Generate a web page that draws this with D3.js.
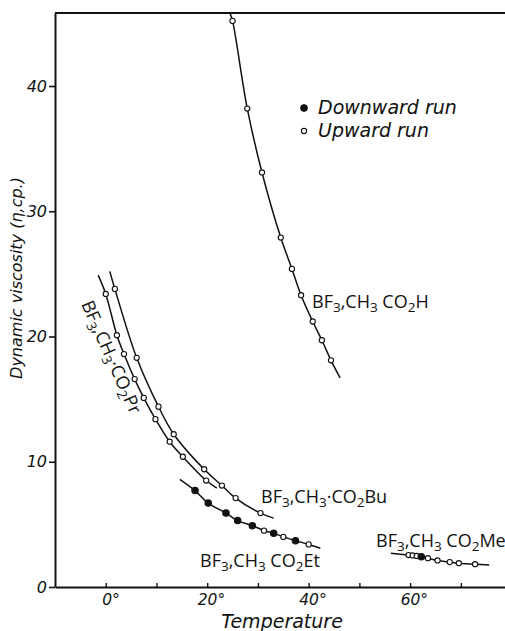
<!DOCTYPE html>
<html>
<head>
<meta charset="utf-8">
<script src="https://cdn.jsdelivr.net/npm/d3@7"></script>
<style>
  body { margin: 0; background: #fff; }
  svg { display: block; }
</style>
</head>
<body>
<div id="chart"></div>
<script>
// axis ticks
const tempTicks = [0, 10, 20, 30, 40, 50, 60, 70]
const tempLabelled = [0, 20, 40, 60]
const viscTicks = [0, 10, 20, 30, 40]

// BF3,CH3CO2H
const acidT = [25.0, 27.9, 30.8, 34.5, 36.7, 38.5, 40.8, 42.6, 44.4]
const acidV = [45.2, 38.2, 33.1, 27.9, 25.4, 23.3, 21.2, 19.7, 18.1]
const acidRun = ['u', 'u', 'u', 'u', 'u', 'u', 'u', 'u', 'u']
const acidEnds = [[24.5, 45.8], [46.2, 16.7]]

// BF3,CH3CO2Pr
const prT = [0, 2.2, 3.6, 5.7, 7.5, 9.8, 12.6, 15.2, 19.8]
const prV = [23.4, 20.1, 18.6, 16.6, 15.1, 13.4, 11.6, 10.4, 8.5]
const prRun = ['u', 'u', 'u', 'u', 'u', 'u', 'u', 'u', 'u']
const prEnds = [[-1.5, 24.9], [21.9, 7.9]]

// BF3,CH3CO2Bu
const buT = [1.8, 6.1, 10.4, 13.4, 19.4, 22.9, 25.6, 30.5]
const buV = [23.8, 18.3, 14.4, 12.2, 9.4, 8.1, 7.1, 5.9]
const buRun = ['u', 'u', 'u', 'u', 'u', 'u', 'u', 'u']
const buEnds = [[0.8, 25.2], [33.1, 5.5]]

// BF3,CH3CO2Et
const etT = [17.6, 20.2, 23.7, 26.0, 28.9, 31.2, 33.1, 35.0, 37.4, 40.0]
const etV = [7.7, 6.7, 5.9, 5.3, 4.9, 4.5, 4.3, 4.0, 3.7, 3.4]
const etRun = ['d', 'd', 'd', 'd', 'd', 'u', 'd', 'u', 'd', 'u']
const etEnds = [[14.6, 8.6], [42.3, 3.1]]

// BF3,CH3CO2Me
const meT = [59.7, 60.5, 61.3, 62.2, 63.5, 65.4, 67.8, 69.6, 72.8]
const meV = [2.55, 2.52, 2.48, 2.42, 2.3, 2.12, 1.99, 1.9, 1.82]
const meRun = ['u', 'u', 'u', 'd', 'u', 'u', 'u', 'u', 'u']
const meEnds = [[56.2, 2.7], [75.6, 1.75]]

// label texts, [text, subscript?]
const labelAcid = [['BF', 0], ['3', 1], [',CH', 0], ['3', 1], [' CO', 0], ['2', 1], ['H', 0]]
const labelPr = [['BF', 0], ['3', 1], [',CH', 0], ['3', 1], ['·CO', 0], ['2', 1], ['Pr', 0]]
const labelBu = [['BF', 0], ['3', 1], [',CH', 0], ['3', 1], ['·CO', 0], ['2', 1], ['Bu', 0]]
const labelEt = [['BF', 0], ['3', 1], [',CH', 0], ['3', 1], [' CO', 0], ['2', 1], ['Et', 0]]
const labelMe = [['BF', 0], ['3', 1], [',CH', 0], ['3', 1], [' CO', 0], ['2', 1], ['Me', 0]]

const legendItems = [['d', 'Downward run'], ['u', 'Upward run']]

const W = 505
const H = 631

const svg = d3
  .select('#chart')
  .append('svg')
  .attr('width', W)
  .attr('height', H)

const x = d3.scaleLinear().domain([-10, 78.7]).range([55, 505])
const y = d3.scaleLinear().domain([0, 45.83]).range([587, 13])

const italic = "'DejaVu Sans', sans-serif"
const chem = "'Open Sans', 'DejaVu Sans', sans-serif"

// frame top
svg
  .append('line')
  .attr('x1', x(-10))
  .attr('x2', x(78.7))
  .attr('y1', y(45.83))
  .attr('y2', y(45.83))
  .attr('stroke', '#111')
  .attr('stroke-width', 2.2)

// y axis
const yAxis = svg
  .append('g')
  .attr('transform', `translate(${x(-10)},0)`)
  .call(
    d3.axisLeft(y).tickValues(viscTicks).tickSize(6).tickSizeOuter(0).tickPadding(2)
  )
yAxis.select('.domain').attr('stroke', '#111').attr('stroke-width', 2)
yAxis.selectAll('.tick line').attr('stroke', '#111').attr('stroke-width', 1.6)
yAxis
  .selectAll('.tick text')
  .attr('font-family', italic)
  .attr('font-style', 'italic')
  .attr('font-size', 16)
  .attr('fill', '#111')

// x axis, ticks pointing up
const xAxis = svg
  .append('g')
  .attr('transform', `translate(0,${y(0)})`)
  .call(
    d3
      .axisBottom(x)
      .tickValues(tempTicks)
      .tickSize(-4)
      .tickSizeOuter(0)
      .tickPadding(7)
      .tickFormat(d => (tempLabelled.includes(d) ? d + '°' : ''))
  )
xAxis.select('.domain').attr('stroke', '#111').attr('stroke-width', 2)
xAxis.selectAll('.tick line').attr('stroke', '#111').attr('stroke-width', 1.4)
xAxis
  .selectAll('.tick text')
  .attr('font-family', italic)
  .attr('font-style', 'italic')
  .attr('font-size', 15.5)
  .attr('fill', '#111')
  .attr('text-anchor', 'start')
  .attr('dx', d => (d === 0 ? -4 : -10))

// axis titles
svg
  .append('text')
  .attr('x', 282)
  .attr('y', 628)
  .attr('text-anchor', 'middle')
  .attr('font-family', italic)
  .attr('font-style', 'italic')
  .attr('font-size', 19)
  .attr('fill', '#111')
  .text('Temperature')

svg
  .append('text')
  .attr('transform', 'translate(22,278) rotate(-90)')
  .attr('text-anchor', 'middle')
  .attr('font-family', italic)
  .attr('font-style', 'italic')
  .attr('font-size', 16)
  .attr('fill', '#111')
  .text('Dynamic viscosity (η,cp.)')

// curves and points
const series = [
  { t: acidT, v: acidV, run: acidRun, ends: acidEnds },
  { t: prT, v: prV, run: prRun, ends: prEnds },
  { t: buT, v: buV, run: buRun, ends: buEnds },
  { t: etT, v: etV, run: etRun, ends: etEnds },
  { t: meT, v: meV, run: meRun, ends: meEnds }
]

const line = d3
  .line()
  .x(d => x(d[0]))
  .y(d => y(d[1]))
  .curve(d3.curveCatmullRom.alpha(0.5))

series.forEach(s => {
  const pts = s.t.map((t, i) => [t, s.v[i], s.run[i]])
  const knots = [s.ends[0]].concat(pts.map(p => [p[0], p[1]]), [s.ends[1]])

  svg
    .append('path')
    .attr('d', line(knots))
    .attr('fill', 'none')
    .attr('stroke', '#111')
    .attr('stroke-width', 1.5)

  svg
    .append('g')
    .selectAll('circle')
    .data(pts)
    .enter()
    .append('circle')
    .attr('cx', d => x(d[0]))
    .attr('cy', d => y(d[1]))
    .attr('r', d => (d[2] === 'd' ? 3.2 : 2.6))
    .attr('fill', d => (d[2] === 'd' ? '#111' : '#fff'))
    .attr('stroke', '#111')
    .attr('stroke-width', 1.1)
})

// chemical labels with subscripts
function chemLabel(parts, px, py, angle) {
  const t = svg
    .append('text')
    .attr('transform', `translate(${px},${py}) rotate(${angle})`)
    .attr('font-family', chem)
    .attr('font-size', 18)
    .attr('fill', '#111')
  let shifted = false
  parts.forEach(p => {
    const sp = t.append('tspan').text(p[0])
    if (p[1] && !shifted) {
      sp.attr('dy', 4).attr('font-size', 13.5)
      shifted = true
    } else if (!p[1] && shifted) {
      sp.attr('dy', -4)
      shifted = false
    }
  })
}

chemLabel(labelAcid, 312, 308, 0)
chemLabel(labelBu, 261, 503, 0)
chemLabel(labelEt, 200, 567, 0)
chemLabel(labelMe, 376, 547, 0)
chemLabel(labelPr, 81, 304, 66)

// legend
const legend = svg.append('g').attr('transform', 'translate(304,0)')
legendItems.forEach((d, i) => {
  legend
    .append('circle')
    .attr('cx', 0)
    .attr('cy', 108 + i * 23)
    .attr('r', d[0] === 'd' ? 3.2 : 2.6)
    .attr('fill', d[0] === 'd' ? '#111' : '#fff')
    .attr('stroke', '#111')
    .attr('stroke-width', 1.1)
  legend
    .append('text')
    .attr('x', 14)
    .attr('y', 114 + i * 23)
    .attr('font-family', italic)
    .attr('font-style', 'italic')
    .attr('font-size', 19)
    .attr('fill', '#111')
    .text(d[1])
})
</script>
</body>
</html>
